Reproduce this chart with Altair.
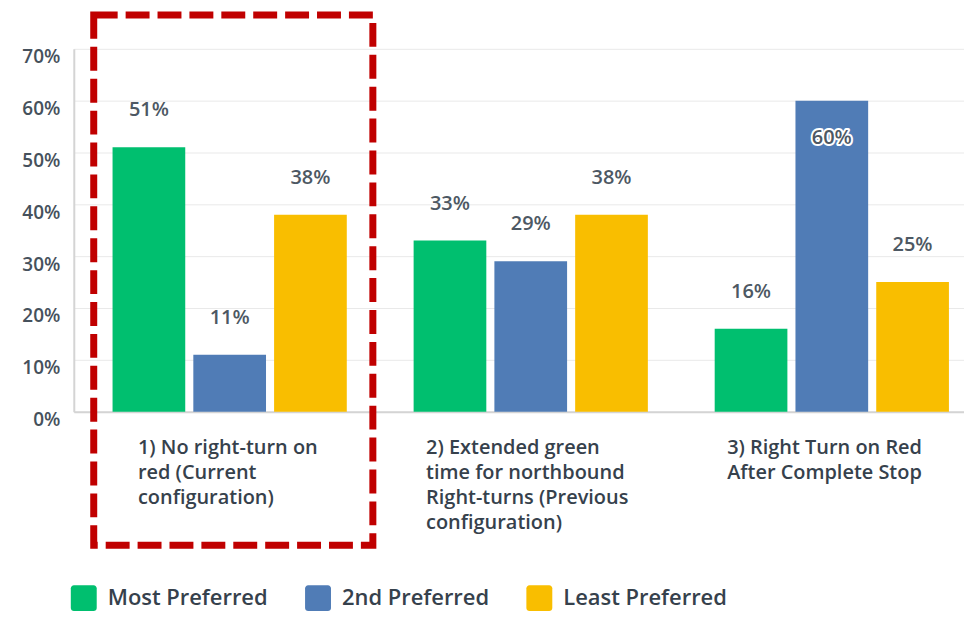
import altair as alt
import pandas as pd

CATEGORIES = [
    "1) No right-turn on\nred (Current\nconfiguration)",
    "2) Extended green\ntime for northbound\nRight-turns (Previous\nconfiguration)",
    "3) Right Turn on Red\nAfter Complete Stop",
]
SERIES = ["Most Preferred", "2nd Preferred", "Least Preferred"]
MOST = [0.51, 0.33, 0.16]
SECOND = [0.11, 0.29, 0.60]
LEAST = [0.38, 0.38, 0.25]
COLORS = ["#00BF6F", "#507CB6", "#F9BE00"]
Y_TICKS = [0.0, 0.1, 0.2, 0.3, 0.4, 0.5, 0.6, 0.7]

FONT = "Open Sans"
TEXT_DARK = "#36414c"
TEXT_VAL = "#4d5863"

rows = []
for i, c in enumerate(CATEGORIES):
    for s, vals in zip(SERIES, [MOST, SECOND, LEAST]):
        rows.append({"category": c, "series": s, "value": vals[i]})
df = pd.DataFrame(rows)

x_enc = alt.X(
    "category:N",
    sort=CATEGORIES,
    scale=alt.Scale(paddingInner=0.222, paddingOuter=0.0894, align=0.72),
    axis=alt.Axis(
        title=None,
        labelExpr="split(datum.label, '\\n')",
        labelAlign="left",
        labelBaseline="top",
        labelOffset={"condition": {"test": "substring(datum.value, 0, 2) == '1)'", "value": -92}, "value": -105},
        labelPadding=26,
        labelLineHeight=25,
        labelFontSize=20,
        labelFont=FONT,
        labelFontWeight=600,
        labelColor=TEXT_DARK,
        labelLimit=400,
        labelAngle=0,
        labelOverlap=False,
        ticks=False,
        domain=True,
        domainColor="#d4d4d4",
        domainWidth=2,
        grid=False,
    ),
)
xoff_enc = alt.XOffset("series:N", sort=SERIES, scale=alt.Scale(paddingInner=0.1, paddingOuter=0))
y_enc = alt.Y(
    "value:Q",
    scale=alt.Scale(domain=[0, 0.7], nice=False),
    axis=alt.Axis(
        values=Y_TICKS,
        format=".0%",
        title=None,
        ticks=False,
        grid=True,
        gridColor="#e9e9e9",
        gridWidth=1,
        domain=True,
        domainColor="#d4d4d4",
        domainWidth=2,
        labelFontSize=19,
        labelFont=FONT,
        labelFontWeight=600,
        labelColor="#46515c",
        labelPadding=14,
        labelOffset=8,
        labelFlush=False,
    ),
)

rounded_square = (
    "M -0.76 -1 H 0.76 A 0.24 0.24 0 0 1 1 -0.76 V 0.76 A 0.24 0.24 0 0 1 0.76 1 "
    "H -0.76 A 0.24 0.24 0 0 1 -1 0.76 V -0.76 A 0.24 0.24 0 0 1 -0.76 -1 Z"
)

base = alt.Chart(df)

bars = base.mark_bar().encode(
    x=x_enc,
    xOffset=xoff_enc,
    y=y_enc,
    color=alt.Color(
        "series:N",
        sort=SERIES,
        scale=alt.Scale(domain=SERIES, range=COLORS),
        legend=alt.Legend(
            title=None,
            orient="none",
            legendX=-3,
            legendY=538,
            direction="horizontal",
            symbolType=rounded_square,
            symbolSize=676,
            symbolStrokeWidth=0,
            symbolOpacity=1,
            labelFontSize=22,
            labelFont=FONT,
            labelFontWeight=600,
            labelColor=TEXT_DARK,
            labelOffset=11,
            labelLimit=400,
            columnPadding=37,
        ),
    ),
)

above = base.transform_filter("datum.value < 0.55").mark_text(
    dy=-37, baseline="middle", fontSize=20, font=FONT, fontWeight=600, color=TEXT_VAL
).encode(x=x_enc, xOffset=xoff_enc, y=y_enc, text=alt.Text("value:Q", format=".0%"))

inside_halo = base.transform_filter("datum.value >= 0.55").mark_text(
    dy=37, baseline="middle", fontSize=20, font=FONT, fontWeight=600,
    color="white", stroke="white", strokeWidth=4, strokeJoin="round"
).encode(x=x_enc, xOffset=xoff_enc, y=y_enc, text=alt.Text("value:Q", format=".0%"))

inside = base.transform_filter("datum.value >= 0.55").mark_text(
    dy=37, baseline="middle", fontSize=20, font=FONT, fontWeight=600, color=TEXT_VAL
).encode(x=x_enc, xOffset=xoff_enc, y=y_enc, text=alt.Text("value:Q", format=".0%"))

box = alt.Chart(pd.DataFrame({"k": [0]})).mark_rect(
    filled=False, color="#C00000", strokeWidth=7, strokeDash=[24, 8]
).encode(x=alt.value(20), x2=alt.value(300), y=alt.value(-34), y2=alt.value(498))

chart = (
    alt.layer(bars, above, inside_halo, inside, box)
    .properties(width=893, height=364, padding={"left": 13, "top": 2, "right": 0, "bottom": 0})
    .configure_view(strokeWidth=0)
)

chart.save("out.html", embed_options={"renderer": "svg", "actions": False})
